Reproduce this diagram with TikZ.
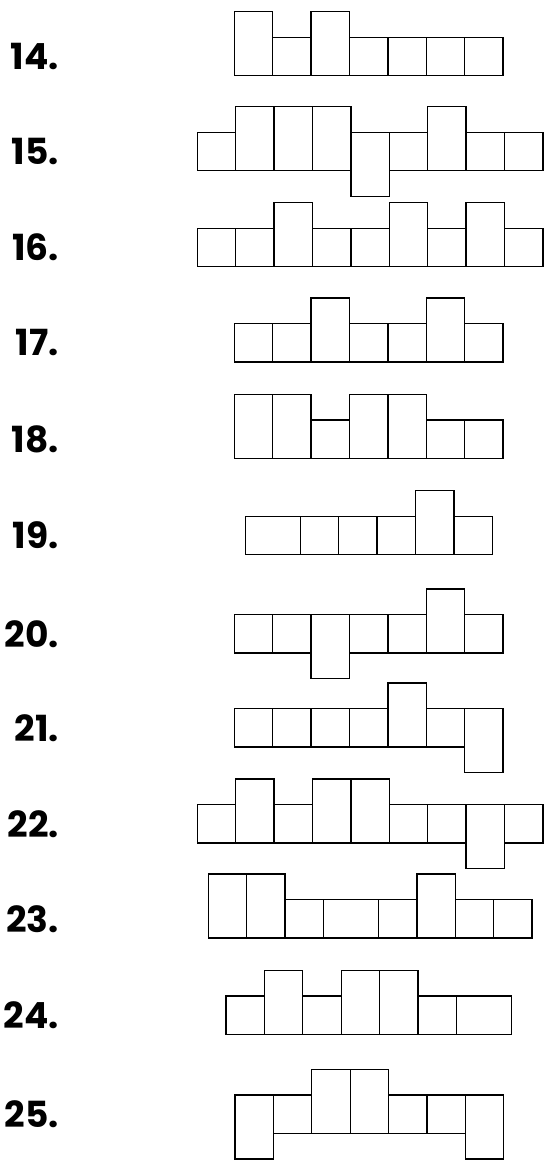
\documentclass[tikz,border=0pt]{standalone}
\usepackage{fontspec}
\setmainfont{Poppins}
\usepackage{tikz}

\begin{document}
\begin{tikzpicture}[x=1pt,y=-1pt,
      sq/.style={draw,line width=1.3pt,inner sep=0pt,outer sep=0pt,anchor=north west,
        minimum width=38.4pt,minimum height=38.4pt},
      hi/.style={minimum height=64pt,yshift=25.6pt},
      lo/.style={minimum height=64pt},
      wd/.style={minimum width=55pt},
      num/.style={anchor=east,inner sep=0pt,font=\fontsize{36}{38}\selectfont\bfseries}
    ]
      \useasboundingbox (0,0) rectangle (547,1168);
      % row number / left edge / top of the short cells / cells
      \foreach \row/\xo/\yo/\cells in {
          14/234.3/37.3/{hi,sq,hi,sq,sq,sq,sq},
          15/197.3/132.3/{sq,hi,hi,hi,lo,sq,hi,sq,sq},
          16/197.3/228.3/{sq,sq,hi,sq,sq,hi,sq,hi,sq},
          17/234.3/323.7/{sq,sq,hi,sq,sq,hi,sq},
          18/234.3/420.0/{hi,hi,sq,hi,hi,sq,sq},
          19/245.3/516.3/{wd,sq,sq,sq,hi,sq},
          20/234.3/614.7/{sq,sq,lo,sq,sq,hi,sq},
          21/234.3/708.7/{sq,sq,sq,sq,hi,sq,lo},
          22/197.3/804.7/{sq,hi,sq,hi,hi,sq,sq,lo,sq},
          23/208.3/899.7/{hi,hi,sq,wd,sq,hi,sq,sq},
          24/226.0/996.0/{sq,hi,sq,hi,hi,sq,wd},
          25/235.0/1095.0/{lo,sq,hi,hi,sq,sq,lo}}{
        \node[num] (n\row) at (59,\yo+19.2) {\row.};
        \coordinate (p\row-0) at (\xo,\yo);
        \foreach \c [count=\i, remember=\i as \j (initially 0)] in \cells {
          \node[sq,\c] (c\row-\i) at (p\row-\j) {};
          \coordinate (p\row-\i) at (c\row-\i.east |- p\row-0);
        }
      }
    \end{tikzpicture}
\end{document}
